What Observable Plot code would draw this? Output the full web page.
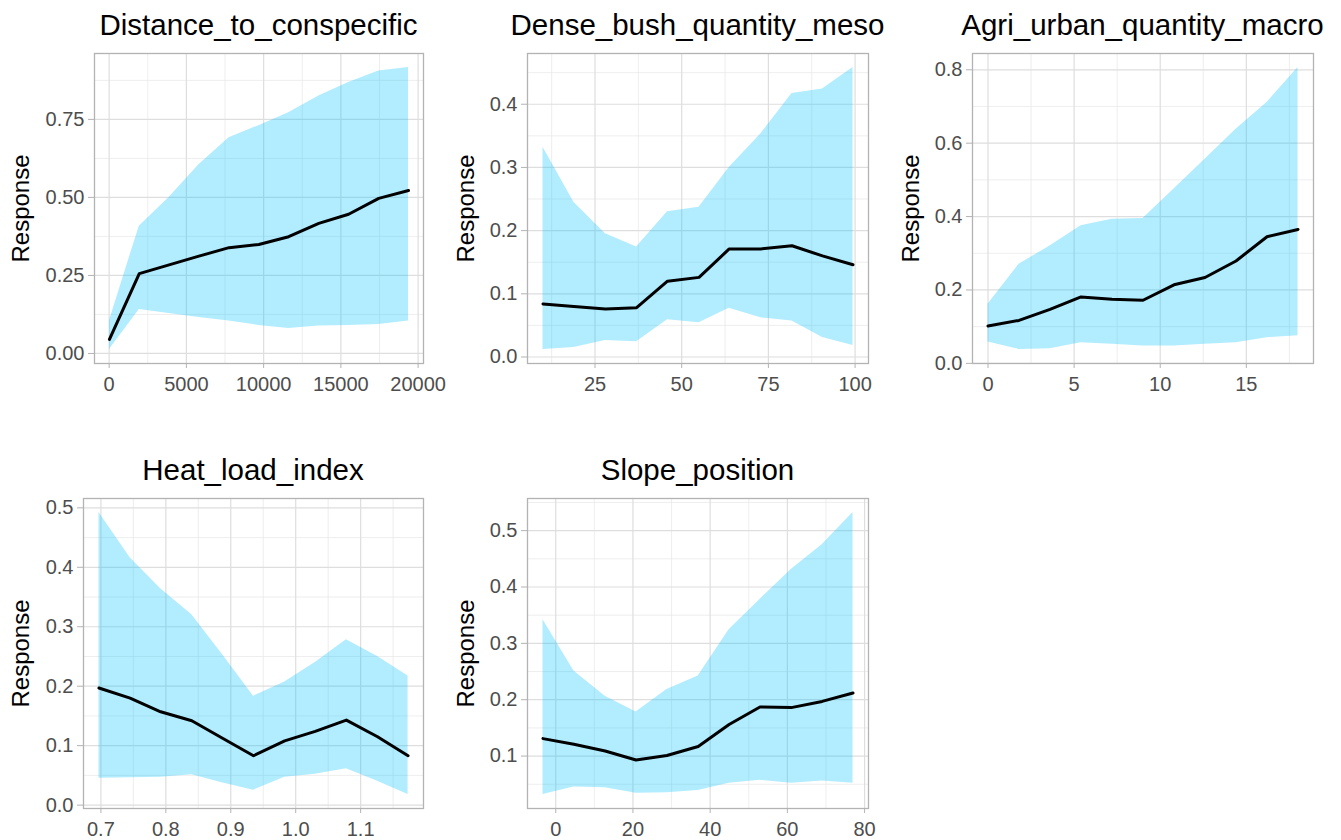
<!DOCTYPE html>
<html>
<head>
<meta charset="utf-8">
<script src="https://cdn.jsdelivr.net/npm/d3@7"></script>
<script src="https://cdn.jsdelivr.net/npm/@observablehq/plot@0.6"></script>
<style>
  html, body { margin: 0; padding: 0; background: #ffffff; }
  #root { position: relative; width: 1341px; height: 840px; overflow: hidden; background: #ffffff;
          font-family: "Liberation Sans", Arial, Helvetica, sans-serif; }
  .title { position: absolute; text-align: center; font-size: 29.5px; line-height: 28px; color: #000;
           white-space: nowrap; }
  .panel { position: absolute; }
</style>
</head>
<body>
<div id="root"></div>
<script>
// ---------------- DATA ----------------
const titles = ["Distance_to_conspecific", "Dense_bush_quantity_meso", "Agri_urban_quantity_macro",
                "Heat_load_index", "Slope_position"];

// Panel 1: Distance_to_conspecific
const distX     = [20, 1950, 3880, 5810, 7760, 9690, 11620, 13570, 15500, 17450, 19380];
const distMean  = [0.045, 0.256, 0.284, 0.312, 0.339, 0.349, 0.374, 0.417, 0.446, 0.497, 0.522];
const distUpper = [0.105, 0.408, 0.500, 0.605, 0.691, 0.730, 0.771, 0.825, 0.868, 0.905, 0.916];
const distLower = [0.013, 0.141, 0.128, 0.115, 0.104, 0.090, 0.080, 0.088, 0.090, 0.093, 0.104];

// Panel 2: Dense_bush_quantity_meso
const bushX     = [10.0, 18.9, 28.0, 37.0, 45.9, 55.0, 63.7, 72.8, 81.8, 90.6, 99.4];
const bushMean  = [0.084, 0.080, 0.076, 0.078, 0.120, 0.126, 0.171, 0.171, 0.176, 0.160, 0.146];
const bushUpper = [0.332, 0.245, 0.195, 0.174, 0.230, 0.237, 0.300, 0.353, 0.417, 0.424, 0.458];
const bushLower = [0.012, 0.015, 0.026, 0.024, 0.059, 0.054, 0.077, 0.062, 0.057, 0.031, 0.018];

// Panel 3: Agri_urban_quantity_macro
const agriX     = [0, 1.8, 3.6, 5.4, 7.2, 9.0, 10.8, 12.6, 14.4, 16.2, 18.0];
const agriMean  = [0.102, 0.117, 0.147, 0.181, 0.175, 0.172, 0.214, 0.234, 0.279, 0.345, 0.365];
const agriUpper = [0.161, 0.270, 0.320, 0.375, 0.393, 0.395, 0.475, 0.556, 0.638, 0.711, 0.806];
const agriLower = [0.058, 0.038, 0.040, 0.056, 0.052, 0.047, 0.047, 0.052, 0.056, 0.070, 0.075];

// Panel 4: Heat_load_index
const heatX     = [0.697, 0.745, 0.792, 0.840, 0.888, 0.935, 0.983, 1.030, 1.078, 1.126, 1.173];
const heatMean  = [0.197, 0.180, 0.157, 0.142, 0.112, 0.083, 0.108, 0.124, 0.143, 0.115, 0.083];
const heatUpper = [0.492, 0.416, 0.364, 0.320, 0.252, 0.183, 0.207, 0.240, 0.278, 0.250, 0.217];
const heatLower = [0.045, 0.046, 0.047, 0.051, 0.037, 0.025, 0.047, 0.052, 0.061, 0.040, 0.018];

// Panel 5: Slope_position
const slopeX     = [-3.3, 4.7, 12.8, 20.8, 28.8, 36.9, 44.9, 52.9, 61.0, 69.0, 77.0];
const slopeMean  = [0.131, 0.121, 0.109, 0.093, 0.101, 0.117, 0.156, 0.187, 0.186, 0.197, 0.212];
const slopeUpper = [0.342, 0.251, 0.206, 0.178, 0.218, 0.242, 0.324, 0.378, 0.431, 0.475, 0.532];
const slopeLower = [0.032, 0.045, 0.044, 0.034, 0.035, 0.039, 0.052, 0.057, 0.052, 0.056, 0.052];

// Tick breaks (major) and minor grid breaks
const distXTicks  = [0, 5000, 10000, 15000, 20000];
const distXMinor  = [2500, 7500, 12500, 17500];
const distYTicks  = [0, 0.25, 0.5, 0.75];
const distYMinor  = [0.125, 0.375, 0.625, 0.875];

const bushXTicks  = [25, 50, 75, 100];
const bushXMinor  = [12.5, 37.5, 62.5, 87.5];
const bushYTicks  = [0, 0.1, 0.2, 0.3, 0.4];
const bushYMinor  = [0.05, 0.15, 0.25, 0.35, 0.45];

const agriXTicks  = [0, 5, 10, 15];
const agriXMinor  = [2.5, 7.5, 12.5, 17.5];
const agriYTicks  = [0, 0.2, 0.4, 0.6, 0.8];
const agriYMinor  = [0.1, 0.3, 0.5, 0.7];

const heatXTicks  = [0.7, 0.8, 0.9, 1.0, 1.1];
const heatXMinor  = [0.75, 0.85, 0.95, 1.05, 1.15];
const heatYTicks  = [0, 0.1, 0.2, 0.3, 0.4, 0.5];
const heatYMinor  = [0.05, 0.15, 0.25, 0.35, 0.45];

const slopeXTicks = [0, 20, 40, 60, 80];
const slopeXMinor = [10, 30, 50, 70];
const slopeYTicks = [0.1, 0.2, 0.3, 0.4, 0.5];
const slopeYMinor = [0.05, 0.15, 0.25, 0.35, 0.45, 0.55];

const yLabel = "Response";

// ---------------- LAYOUT ----------------
const panels = [
  {title: titles[0], x: distX, mean: distMean, lo: distLower, hi: distUpper,
   xT: distXTicks, xM: distXMinor, yT: distYTicks, yM: distYMinor, xf: d3.format("d"), yf: d3.format(".2f"),
   left: 0, top: 45, ml: 94},
  {title: titles[1], x: bushX, mean: bushMean, lo: bushLower, hi: bushUpper,
   xT: bushXTicks, xM: bushXMinor, yT: bushYTicks, yM: bushYMinor, xf: d3.format("d"), yf: d3.format(".1f"),
   left: 445, top: 45, ml: 82},
  {title: titles[2], x: agriX, mean: agriMean, lo: agriLower, hi: agriUpper,
   xT: agriXTicks, xM: agriXMinor, yT: agriYTicks, yM: agriYMinor, xf: d3.format("d"), yf: d3.format(".1f"),
   left: 890, top: 45, ml: 82},
  {title: titles[3], x: heatX, mean: heatMean, lo: heatLower, hi: heatUpper,
   xT: heatXTicks, xM: heatXMinor, yT: heatYTicks, yM: heatYMinor, xf: d3.format(".1f"), yf: d3.format(".1f"),
   left: 0, top: 490, ml: 83},
  {title: titles[4], x: slopeX, mean: slopeMean, lo: slopeLower, hi: slopeUpper,
   xT: slopeXTicks, xM: slopeXMinor, yT: slopeYTicks, yM: slopeYMinor, xf: d3.format("d"), yf: d3.format(".1f"),
   left: 445, top: 490, ml: 82}
];

const W = 445, H = 350, MR = 22, MT = 8, MB = 32;
const root = document.getElementById("root");

for (const p of panels) {
  const data = p.x.map((x, i) => ({x, mean: p.mean[i], lo: p.lo[i], hi: p.hi[i]}));
  const [x0, x1] = d3.extent(p.x);
  const ex = (x1 - x0) * 0.05;
  const y0 = d3.min([...p.lo, ...p.mean]), y1 = d3.max([...p.hi, ...p.mean]);
  const ey = (y1 - y0) * 0.05;
  const xd = [x0 - ex, x1 + ex], yd = [y0 - ey, y1 + ey];
  const inX = v => v >= xd[0] && v <= xd[1];
  const inY = v => v >= yd[0] && v <= yd[1];
  const xT = p.xT.filter(inX), xM = p.xM.filter(inX);
  const yT = p.yT.filter(inY), yM = p.yM.filter(inY);

  const chart = Plot.plot({
    width: W, height: H,
    marginLeft: p.ml, marginRight: MR, marginTop: MT, marginBottom: MB,
    style: {fontFamily: '"Liberation Sans", Arial, Helvetica, sans-serif', fontSize: "20px",
            background: "transparent", overflow: "visible"},
    x: {domain: xd},
    y: {domain: yd},
    marks: [
      Plot.ruleX(xM, {stroke: "#e6e6e6", strokeWidth: 0.7}),
      Plot.ruleY(yM, {stroke: "#e6e6e6", strokeWidth: 0.7}),
      Plot.ruleX(xT, {stroke: "#dedede", strokeWidth: 1.2}),
      Plot.ruleY(yT, {stroke: "#dedede", strokeWidth: 1.2}),
      Plot.areaY(data, {x: "x", y1: "lo", y2: "hi", fill: "#00bfff", fillOpacity: 0.3}),
      Plot.lineY(data, {x: "x", y: "mean", stroke: "#000000", strokeWidth: 3}),
      Plot.frame({stroke: "#b3b3b3", strokeWidth: 1.3}),
      Plot.axisX({ticks: xT, tickFormat: p.xf, tickSize: 5, tickPadding: 8, label: null,
                  stroke: "#b3b3b3", fill: "#4d4d4d", fontSize: 20}),
      Plot.axisY({ticks: yT, tickFormat: p.yf, tickSize: 6, tickPadding: 4, label: null,
                  stroke: "#b3b3b3", fill: "#4d4d4d", fontSize: 20}),
      Plot.text([yLabel], {frameAnchor: "left", rotate: -90, lineAnchor: "top", textAnchor: "middle",
                           dx: 11.5 - p.ml, fontSize: 24, fill: "#000000"})
    ]
  });
  chart.classList.add("panel");
  chart.style.left = p.left + "px";
  chart.style.top = p.top + "px";
  root.appendChild(chart);

  const t = document.createElement("div");
  t.className = "title";
  t.textContent = p.title;
  t.style.left = (p.left + p.ml - 100) + "px";
  t.style.width = (W - p.ml - MR + 200) + "px";
  t.style.top = (p.top - 34) + "px";
  root.appendChild(t);
}
</script>
</body>
</html>
